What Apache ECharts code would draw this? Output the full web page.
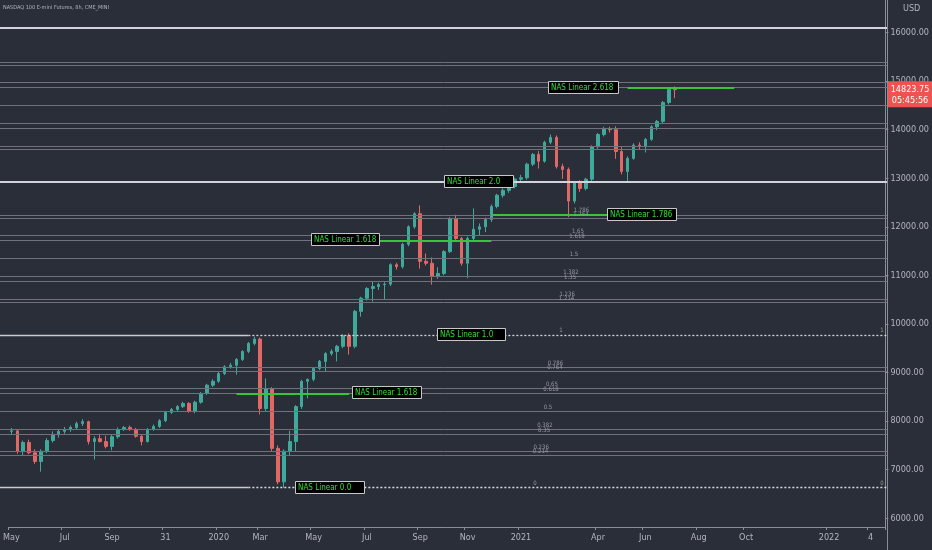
<!DOCTYPE html>
<html><head><meta charset="utf-8">
<script src="https://cdn.jsdelivr.net/npm/echarts@6/dist/echarts.min.js"></script>
<style>html,body{margin:0;padding:0;background:#2a2e39;}#c{width:932px;height:550px;}</style>
</head><body><div id="c"></div>
<script>
// ---- DATA ----
// candles: [open, close, low, high], roughly weekly, May 2019 -> Jul 2021
const candles = [
[7790,7800,7720,7860],[7800,7380,7330,7830],[7380,7560,7290,7600],[7560,7350,7320,7620],
[7350,7170,7120,7420],[7170,7380,6960,7420],[7380,7600,7340,7650],[7600,7720,7560,7790],
[7720,7790,7660,7830],[7790,7830,7740,7880],[7830,7870,7780,7910],[7870,7950,7830,7990],
[7950,7990,7900,8040],[7990,7580,7520,8010],[7580,7640,7210,7690],[7640,7580,7560,7740],
[7580,7480,7440,7700],[7480,7680,7400,7720],[7680,7830,7640,7870],[7830,7870,7800,7900],
[7870,7830,7800,7910],[7830,7690,7660,7860],[7690,7580,7500,7710],[7580,7830,7560,7860],
[7830,7890,7800,7930],[7890,8010,7860,8040],[8010,8180,7980,8210],[8180,8240,8150,8270],
[8240,8300,8210,8330],[8300,8365,8270,8400],[8365,8200,8170,8390],[8200,8390,8160,8420],
[8390,8570,8360,8600],[8570,8740,8540,8770],[8740,8820,8700,8860],[8820,8980,8790,9010],
[8980,9120,8950,9150],[9120,9150,9080,9200],[9150,9270,8960,9300],[9270,9435,9240,9460],
[9435,9600,9400,9630],[9600,9690,9560,9740],[9690,8260,8140,9720],[8260,8670,8200,8880],
[8670,7440,7380,8700],[7440,6750,6700,7500],[6750,7380,6628,7420],[7380,7580,7300,7800],
[7580,8300,7370,8330],[8300,8820,8250,8850],[8820,8860,8470,8880],[8860,9085,8820,9110],
[9085,9230,9050,9260],[9230,9390,9020,9420],[9390,9435,9350,9480],[9435,9540,9230,9570],
[9540,9760,9500,9790],[9760,9540,9370,9810],[9540,10260,9500,10290],[10260,10530,10150,10560],
[10530,10730,10480,10760],[10730,10770,10460,10880],[10770,10810,10700,10850],[10810,10820,10500,10860],
[10820,11220,10780,11250],[11220,11180,11120,11260],[11180,11640,11140,11670],[11640,12000,11600,12030],
[12000,12270,11960,12300],[12270,11290,11140,12440],[11290,11250,11200,11450],[11250,10980,10810,11370],
[10980,11040,10930,11170],[11040,11490,11000,11520],[11490,12170,11460,12200],[12170,11760,11730,12250],
[11760,11250,11200,11790],[11250,11760,10940,11800],[11760,11950,11700,12380],[11950,12000,11830,12070],
[12000,12150,11890,12190],[12150,12420,12100,12460],[12420,12650,12380,12680],[12650,12750,12600,12790],
[12750,12830,12700,12870],[12830,12980,12790,13010],[12980,13010,12940,13070],[13010,13290,12970,13320],
[13290,13490,13250,13520],[13490,13350,13200,13560],[13350,13740,13320,13770],[13740,13840,13700,13900],
[13840,13240,13200,13880],[13240,13180,12990,13300],[13180,12530,12200,13220],[12530,12900,12480,12940],
[12900,12790,12720,12960],[12790,12980,12750,13010],[12980,13650,12940,13680],[13650,13900,13610,13930],
[13900,14020,13860,14060],[14020,14000,13940,14060],[14000,13550,13400,14070],[13550,13140,13080,13640],
[13140,13410,12930,13450],[13410,13680,13380,13720],[13680,13660,13600,13740],[13660,13800,13530,13830],
[13800,14060,13770,14090],[14060,14170,13990,14200],[14170,14560,14130,14590],[14560,14830,14520,14880],
[14830,14823.75,14650,14890]
];
const categoryCount = 148; // time slots incl. future space
const xTickLabels = [[0,'May'],[9,'Jul'],[17,'Sep'],[26,'31'],[35,'2020'],[42,'Mar'],[51,'May'],[60,'Jul'],
  [69,'Sep'],[77,'Nov'],[86,'2021'],[99,'Apr'],[107,'Jun'],[116,'Aug'],[124,'Oct'],[138,'2022'],[145,'4']];
const fibRatios = [0,0.214,0.236,0.35,0.382,0.5,0.618,0.65,0.764,0.786,1,1.214,1.236,1.35,1.382,1.5,1.618,1.65,1.764,1.786,
  2,2.214,2.236,2.35,2.382,2.5,2.618,2.65,2.764,2.786,3];
const fibPrices = [6629,7302,7371,7730,7831,8202,8573,8674,9032,9102,9775,10448,10518,10876,10977,11348,11719,11820,12179,12248,
  12921,13595,13664,14022,14123,14494,14866,14966,15325,15394,16090];
const fibLabelRatios = [0,0.214,0.236,0.35,0.382,0.5,0.618,0.65,0.764,0.786,1,1.214,1.236,1.35,1.382,1.5,1.618,1.65,1.764,1.786];
const boxTexts = ['NAS Linear 2.618','NAS Linear 2.0','NAS Linear 1.786','NAS Linear 1.618','NAS Linear 1.0','NAS Linear 1.618','NAS Linear 0.0'];
const boxPrices = [14866,12921,12248,11719,9775,8573,6629];
const greenPrices = [14866,12248,11719,8573];
const lastPrice = 14823.75;
const countdown = '05:45:56';
const titleText = 'NASDAQ 100 E-mini Futures, 8h, CME_MINI';

// ---- LAYOUT / STYLE ----
const FONT = "'Liberation Sans Narrow','DejaVu Sans Condensed',sans-serif";
const PLOT_RIGHT = 887;
const boxLeft = [548,444,607,311,437,352,295];
const boxWidth = [70,69,69,68,68,69,69];
const greenSpan = [[104,122],[81,101],[62,81],[38,57]];
const UP = '#3fa99b', DOWN = '#e06966', AXC = '#b2b5be';

const chart = echarts.init(document.getElementById('c'));
const cats = Array.from({length: categoryCount}, (_, i) => String(i));
const labelMap = Object.fromEntries(xTickLabels.map(d => [String(d[0]), d[1]]));

const ml = [];
fibRatios.forEach((r, k) => {
  const p = fibPrices[k];
  if (r === 0 || r === 1) {
    ml.push([{yAxis:p, x:0, lineStyle:{color:'#c9cbd1',width:1.3,type:'solid'}},{coord:[40,p]}]);
    ml.push([{coord:[40,p], lineStyle:{color:'#d7d9de',width:1.3,type:[2,2]}},{yAxis:p, x:PLOT_RIGHT}]);
  } else if (r === 2 || r === 3) {
    ml.push([{yAxis:p, x:0, lineStyle:{color:'#d1d4dc',width:2,type:'solid'}},{yAxis:p, x:PLOT_RIGHT}]);
  } else {
    ml.push([{yAxis:p, x:0, lineStyle:{color:'#6f727d',width:1,type:'solid'}},{yAxis:p, x:PLOT_RIGHT}]);
  }
});
greenPrices.forEach((p, k) => {
  ml.push([{coord:[greenSpan[k][0],p], lineStyle:{color:'#39c43a',width:2,type:'solid'}},{coord:[greenSpan[k][1],p]}]);
});

const option = {
  animation:false,
  backgroundColor:'#2a2e39',
  grid:{left:0,right:45,top:0,bottom:23},
  xAxis:{type:'category',data:cats,boundaryGap:true,
    axisLine:{show:true,lineStyle:{color:'#8a8d96',width:1}},
    axisTick:{show:true,length:3,interval:(i,v)=>v in labelMap,lineStyle:{color:'#8a8d96'}},
    axisLabel:{interval:(i,v)=>v in labelMap,formatter:v=>labelMap[v]||'',color:AXC,fontSize:9,fontFamily:FONT,margin:6},
    splitLine:{show:false}},
  yAxis:{type:'value',position:'right',min:5821,max:16669,splitNumber:11,scale:true,
    axisLine:{show:true,lineStyle:{color:'#8a8d96'}},
    axisTick:{show:true,length:3,lineStyle:{color:'#8a8d96'}},
    axisLabel:{formatter:v=>v.toFixed(2),color:AXC,fontSize:9,fontFamily:FONT,margin:5,showMinLabel:false,showMaxLabel:false},
    splitLine:{show:false}},
  series:[{type:'candlestick',data:candles,barWidth:3,
    itemStyle:{color:UP,color0:DOWN,borderColor:UP,borderColor0:DOWN,borderWidth:1},
    markLine:{silent:true,symbol:'none',label:{show:false},animation:false,data:ml}
  }]
};
chart.setOption(option);

const yPx = v => chart.convertToPixel({yAxisIndex:0}, v);
const g = [];
g.push({type:'text',x:3,y:5,style:{text:titleText,fill:AXC,font:`5.5px ${FONT}`}});
g.push({type:'text',x:903,y:4,style:{text:'USD',fill:AXC,font:`9px ${FONT}`}});
g.push({type:'line',shape:{x1:887.5,y1:0,x2:887.5,y2:550},style:{stroke:'#8a8d96',lineWidth:1},z:50});
fibLabelRatios.forEach(r => {
  const p = fibPrices[fibRatios.indexOf(r)];
  g.push({type:'text',x:535+26*r,y:yPx(p)-1,style:{text:String(r),fill:'#9598a1',font:`6px ${FONT}`,align:'center',verticalAlign:'bottom'},z:60});
});
[1,0].forEach(r => {
  const p = fibPrices[fibRatios.indexOf(r)];
  g.push({type:'text',x:882,y:yPx(p)-1,style:{text:String(r),fill:'#8fa08f',font:`6px ${FONT}`,align:'center',verticalAlign:'bottom'},z:60});
});
boxTexts.forEach((t, k) => {
  const y = Math.round(yPx(boxPrices[k]));
  g.push({type:'rect',shape:{x:boxLeft[k]+0.5,y:y-6.5,width:boxWidth[k],height:12},style:{fill:'#000000',stroke:'#c8c8c8',lineWidth:1},z:100});
  g.push({type:'text',x:boxLeft[k]+3,y:y,style:{text:t,fill:'#2ee02e',font:`8px ${FONT}`,verticalAlign:'middle'},z:101});
});
const py = yPx(lastPrice);
g.push({type:'rect',shape:{x:888,y:py-8.5,width:44,height:26},style:{fill:'#ef5350'},z:100});
g.push({type:'text',x:910,y:py,style:{text:lastPrice.toFixed(2),fill:'#ffffff',font:`9px ${FONT}`,align:'center',verticalAlign:'middle'},z:101});
g.push({type:'text',x:910,y:py+11,style:{text:countdown,fill:'#ffffff',font:`9px ${FONT}`,align:'center',verticalAlign:'middle'},z:101});
chart.setOption({graphic:g});
</script></body></html>
